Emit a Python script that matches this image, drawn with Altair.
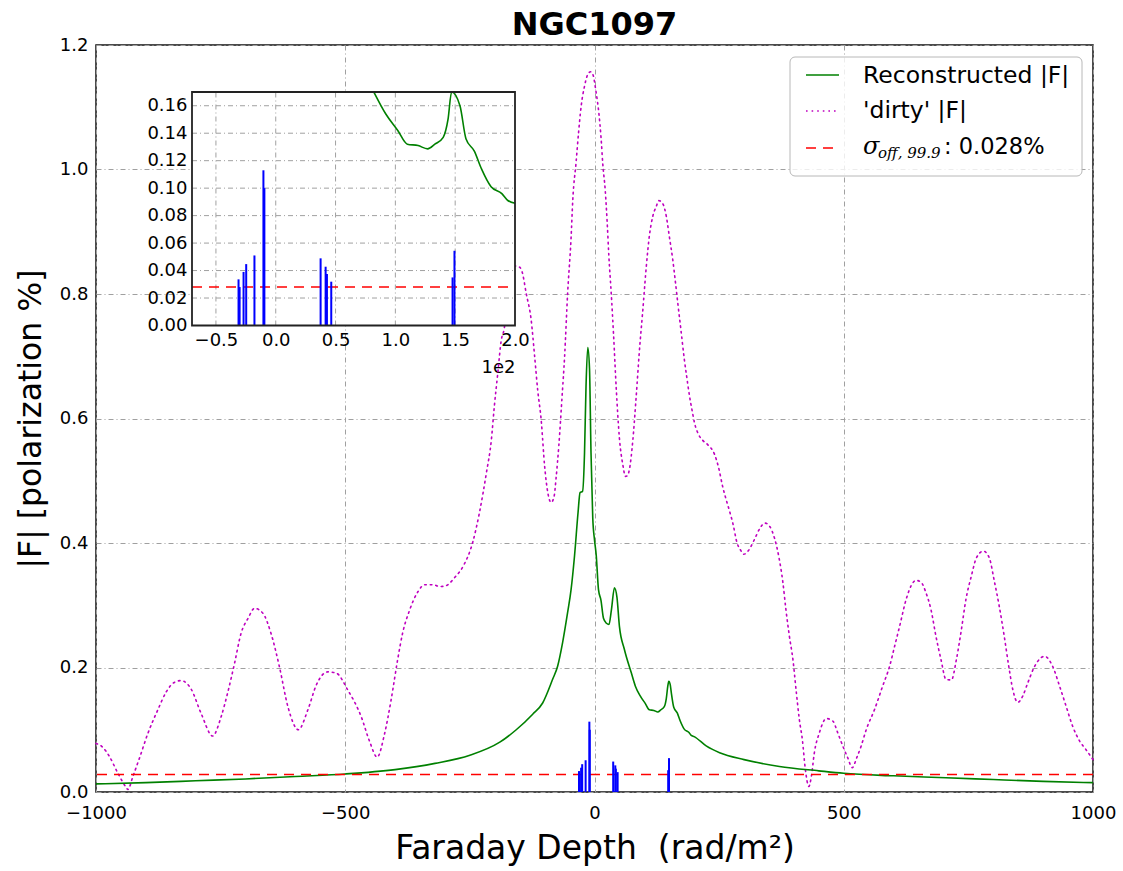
import altair as alt
import pandas as pd

# ---------------- data ----------------
title_text = "NGC1097"

dirty_x = [-1000, -988, -973, -956, -940, -936, -926, -913, -896, -876, -859, -843, -829, -809, -789,
           -766, -749, -736, -722, -709, -695, -682, -665, -649, -632, -615, -594, -575, -558, -535,
           -518, -495, -468, -451, -436, -421, -408, -395, -385, -371, -354, -341, -324, -310, -299,
           -280, -264, -244, -231, -217, -207, -201, -194, -187, -181, -175, -167, -158, -150, -145,
           -137, -127, -120, -114, -107, -100, -93, -87, -81, -77, -71.6, -65, -60, -54, -47, -43.5,
           -37, -32, -26.7, -20, -13.4, -8, -3.4, 3.4, 8.7, 13.4, 16.7, 21.4, 25.5, 28.8, 33.5, 38,
           43.5, 50, 57, 62, 66, 70, 77, 83.6, 90, 97, 104, 110, 117, 124, 129, 137, 144, 150, 157,
           162.5, 167, 174, 180.5, 185, 190.6, 196, 200.6, 209, 217, 227, 241, 249, 257, 264, 271,
           278, 286, 292, 299.5, 309, 321, 332, 342, 352, 361, 370, 378, 384, 391, 398, 405, 411,
           417, 423, 430, 435, 441, 451, 465, 478, 488, 498, 508, 517, 526, 535, 545, 562, 578, 592,
           602, 612, 625, 635, 645, 655, 665, 675, 685, 695, 705, 716, 726, 736, 745, 756, 766, 780,
           792, 802, 812, 822, 831, 839, 849, 859, 869, 883, 903, 919, 933, 946, 959, 973, 986, 1000]
dirty_y = [0.078, 0.073, 0.057, 0.030, 0.008, 0.004, 0.025, 0.054, 0.094, 0.132, 0.161, 0.176, 0.179, 0.165, 0.126,
           0.090, 0.121, 0.159, 0.207, 0.255, 0.279, 0.295, 0.287, 0.255, 0.201, 0.137, 0.100, 0.132, 0.172, 0.193,
           0.191, 0.164, 0.121, 0.081, 0.056, 0.094, 0.148, 0.212, 0.255, 0.292, 0.322, 0.333, 0.333, 0.330, 0.331,
           0.345, 0.362, 0.402, 0.448, 0.512, 0.565, 0.619, 0.673, 0.726, 0.745, 0.790, 0.830, 0.845, 0.843, 0.835,
           0.801, 0.758, 0.699, 0.646, 0.598, 0.523, 0.478, 0.465, 0.475, 0.505, 0.556, 0.636, 0.699, 0.800, 0.890, 0.952,
           1.011, 1.059, 1.102, 1.134, 1.153, 1.157, 1.153, 1.123, 1.091, 1.048, 1.008, 0.968, 0.914, 0.861, 0.802, 0.738,
           0.650, 0.568, 0.525, 0.507, 0.508, 0.518, 0.566, 0.635, 0.708, 0.775, 0.845, 0.893, 0.925, 0.941, 0.950, 0.945, 0.925, 0.893, 0.855,
           0.818, 0.786, 0.738, 0.693, 0.667, 0.636, 0.612, 0.593, 0.574, 0.565, 0.558, 0.542, 0.521, 0.491, 0.470, 0.451,
           0.430, 0.400, 0.390, 0.382, 0.388, 0.406, 0.424, 0.432, 0.426, 0.408, 0.377, 0.336, 0.293, 0.250, 0.213, 0.159, 0.116,
           0.084, 0.036, 0.009, 0.025, 0.063, 0.095, 0.118, 0.114, 0.095, 0.074, 0.055, 0.039, 0.055, 0.074, 0.100, 0.133, 0.170, 0.202,
           0.234, 0.266, 0.309, 0.331, 0.340, 0.337, 0.320, 0.293, 0.250, 0.213, 0.181, 0.180, 0.213, 0.261, 0.309, 0.347, 0.376, 0.387,
           0.376, 0.339, 0.298, 0.250, 0.202, 0.165, 0.144, 0.154, 0.175, 0.202, 0.218, 0.202, 0.170, 0.138, 0.106, 0.082, 0.068, 0.052]

rec_x = [-1000, -900, -800, -700, -600, -500, -400, -320, -250, -190, -157, -124, -104, -84, -74, -64, -54,
         -47, -40, -33, -29, -24, -20, -17, -13.5, -10, -7, -3.5, 0, 3.5, 8, 13, 18, 24, 29, 34, 40, 45,
         50, 60, 74, 82, 92, 102, 110, 119, 127, 133, 140, 144, 147, 149, 152, 154, 159, 166, 172, 180,
         189, 194, 200, 224, 251, 300, 371, 450, 500, 600, 705, 800, 900, 1000]
rec_y = [0.013, 0.015, 0.018, 0.021, 0.025, 0.029, 0.036, 0.046, 0.059, 0.080, 0.100, 0.125, 0.143, 0.181, 0.202, 0.240, 0.288,
         0.325, 0.380, 0.449, 0.481, 0.483, 0.545, 0.652, 0.714, 0.680, 0.545, 0.440, 0.405, 0.380, 0.325, 0.308, 0.279, 0.271, 0.269, 0.293, 0.328, 0.313,
         0.266, 0.229, 0.191, 0.170, 0.154, 0.142, 0.132, 0.131, 0.1286, 0.132, 0.137, 0.150, 0.170, 0.178, 0.172, 0.160, 0.136, 0.127, 0.114, 0.101,
         0.096, 0.091, 0.089, 0.074, 0.063, 0.052, 0.041, 0.034, 0.030, 0.026, 0.023, 0.020, 0.017, 0.015]

comp_x = [-31.1, -30.2, -26.9, -24.7, -17.8, -10.3, -9.5, 37.5, 41.7, 42.8, 46.4, 147.8, 149.4]
comp_h = [0.0336, 0.028, 0.039, 0.0447, 0.051, 0.113, 0.100, 0.0489, 0.0428, 0.0375, 0.0319, 0.035, 0.0544]

sigma = [0.028]

main_xticks = [-1000, -500, 0, 500, 1000]
main_yticks = [0.0, 0.2, 0.4, 0.6, 0.8, 1.0, 1.2]
inset_xticks = [-50, 0, 50, 100, 150, 200]
inset_yticks = [0.0, 0.02, 0.04, 0.06, 0.08, 0.10, 0.12, 0.14, 0.16]
inset_xgrid = [-50, 0, 50, 100, 150]
inset_ygrid = [0.02, 0.04, 0.06, 0.08, 0.10, 0.12, 0.14, 0.16]
inset_xdomain = [-70, 200]
inset_ydomain = [0, 0.17]

legend_labels = ["Reconstructed |F|", "'dirty' |F|"]
sigma_symbol = "σ"
sigma_sub = "off, 99.9"
sigma_rest = ": 0.028%"
x_title = "Faraday Depth \u00a0(rad/m²)"
y_title = "|F| [polarization %]"

# ---------------- styling ----------------
W, H = 997, 747
FONT = "DejaVu Sans"
GRID_DASH = [5, 3, 1, 3]
GRID_COLOR = "#a0a0a0"
GREEN = "#008000"
MAGENTA = "#bf00bf"
RED = "#ff0000"
BLUE = "#0000ff"

dirty_df = pd.DataFrame({"x": dirty_x, "y": dirty_y})
rec_df = pd.DataFrame({"x": rec_x, "y": rec_y})
comp_df = pd.DataFrame({"x": comp_x, "h": comp_h})
sig_df = pd.DataFrame({"s": sigma})
one = pd.DataFrame({"a": [0]})

# main scales / axes
mxs = alt.Scale(domain=[-1000, 1000], nice=False, zero=False)
mys = alt.Scale(domain=[0, 1.2], nice=False)
mxa = alt.Axis(values=main_xticks, format="d", grid=True, gridColor=GRID_COLOR, gridDash=GRID_DASH,
               gridWidth=1, domain=False, ticks=False, labelFontSize=18, labelPadding=12,
               labelFlush=False, labelOverlap=False, title=x_title,
               titleFontSize=33, titleFontWeight="normal", titlePadding=10)
mya = alt.Axis(values=main_yticks, format=".1f", grid=True, gridColor=GRID_COLOR, gridDash=GRID_DASH,
               gridWidth=1, domain=False, ticks=False, labelFontSize=18, labelPadding=8,
               labelFlush=False, labelOverlap=False, title=y_title,
               titleFontSize=31.5, titleFontWeight="normal", titlePadding=12)


def MX(f):
    return alt.X(f, type="quantitative", scale=mxs, axis=mxa)


def MY(f):
    return alt.Y(f, type="quantitative", scale=mys, axis=mya)


dirty = alt.Chart(dirty_df).mark_line(color=MAGENTA, strokeWidth=1.6, strokeDash=[1.6, 4],
                                      strokeCap="round", interpolate="monotone").encode(x=MX("x"), y=MY("y"))
green = alt.Chart(rec_df).mark_line(color=GREEN, strokeWidth=1.6, interpolate="monotone").encode(
    x=MX("x"), y=MY("y"))
redl = alt.Chart(sig_df).mark_rule(color=RED, strokeWidth=1.6, strokeDash=[10, 7]).encode(y=MY("s"))
blue = alt.Chart(comp_df).mark_rule(color=BLUE, strokeWidth=2).encode(
    x=MX("x"), y=MY("h"), y2=alt.datum(0))

# legend (drawn as a box with samples and text)
leg_box = alt.Chart(one).mark_rect(fill="white", fillOpacity=0.8, stroke="#b8b8b8", strokeWidth=1,
                                   cornerRadius=5).encode(
    x=alt.value(694), x2=alt.value(986), y=alt.value(12), y2=alt.value(131))
leg_l1 = alt.Chart(one).mark_rule(color=GREEN, strokeWidth=1.6).encode(
    x=alt.value(710), x2=alt.value(743), y=alt.value(30))
leg_l2 = alt.Chart(one).mark_rule(color=MAGENTA, strokeWidth=1.6, strokeDash=[1.6, 4]).encode(
    x=alt.value(710), x2=alt.value(743), y=alt.value(66))
leg_l3 = alt.Chart(one).mark_rule(color=RED, strokeWidth=1.6, strokeDash=[10, 7]).encode(
    x=alt.value(710), x2=alt.value(743), y=alt.value(103))
leg_t1 = alt.Chart(one).mark_text(text=legend_labels[0], align="left", baseline="middle", fontSize=23.5,
                                  font=FONT, color="black").encode(x=alt.value(767), y=alt.value(31))
leg_t2 = alt.Chart(one).mark_text(text=legend_labels[1], align="left", baseline="middle", fontSize=23.5,
                                  font=FONT, color="black").encode(x=alt.value(767), y=alt.value(66))
leg_t3a = alt.Chart(one).mark_text(text=sigma_symbol, align="left", baseline="alphabetic", fontSize=24,
                                   font="DejaVu Serif", fontStyle="italic", color="black").encode(
    x=alt.value(767), y=alt.value(109))
leg_t3b = alt.Chart(one).mark_text(text=sigma_sub, align="left", baseline="alphabetic", fontSize=15,
                                   font="DejaVu Serif", fontStyle="italic", color="black").encode(
    x=alt.value(782), y=alt.value(113))
leg_t3c = alt.Chart(one).mark_text(text=sigma_rest, align="left", baseline="alphabetic", fontSize=22.5,
                                   font=FONT, color="black").encode(x=alt.value(848), y=alt.value(109))

main = alt.layer(dirty, green, redl, blue, leg_box, leg_l1, leg_l2, leg_l3,
                 leg_t1, leg_t2, leg_t3a, leg_t3b, leg_t3c)

# inset scales / axes
ixs = alt.Scale(domain=inset_xdomain, range=[96, 419], nice=False, zero=False, clamp=True)
iys = alt.Scale(domain=inset_ydomain, range=[280.5, 47], nice=False, clamp=True)
ixa = alt.Axis(orient="bottom", offset=-466.5, values=inset_xticks,
               labelExpr="format(datum.value / 100, '.1f')", grid=False, domain=False, ticks=False,
               labelFontSize=18, labelPadding=6, labelFlush=False, labelOverlap=False,
               title="1e2", titleFontSize=18, titleFontWeight="normal", titleX=419, titleY=42,
               titleAlign="right", titleBaseline="middle")
iya = alt.Axis(orient="left", offset=-96, values=inset_yticks, format=".2f", grid=False, domain=False,
               ticks=False, labelFontSize=18, labelPadding=5, labelFlush=False, labelOverlap=False,
               title="")


def IX(f):
    return alt.X(f, type="quantitative", scale=ixs, axis=ixa)


def IY(f):
    return alt.Y(f, type="quantitative", scale=iys, axis=iya)


ixg_df = pd.DataFrame({"gx": inset_xgrid})
iyg_df = pd.DataFrame({"gy": inset_ygrid})

ibg = alt.Chart(one).mark_rect(fill="white").encode(
    x=alt.X(datum=inset_xdomain[0], scale=ixs, axis=ixa), x2=alt.datum(inset_xdomain[1]),
    y=alt.Y(datum=inset_ydomain[0], scale=iys, axis=iya), y2=alt.datum(inset_ydomain[1]))
igx = alt.Chart(ixg_df).mark_rule(color=GRID_COLOR, strokeWidth=1, strokeDash=GRID_DASH).encode(
    x=IX("gx"), y=alt.datum(inset_ydomain[0]), y2=alt.datum(inset_ydomain[1]))
igy = alt.Chart(iyg_df).mark_rule(color=GRID_COLOR, strokeWidth=1, strokeDash=GRID_DASH).encode(
    y=IY("gy"), x=alt.datum(inset_xdomain[0]), x2=alt.datum(inset_xdomain[1]))
ired = alt.Chart(sig_df).mark_rule(color=RED, strokeWidth=1.6, strokeDash=[10, 7]).encode(
    y=IY("s"), x=alt.datum(inset_xdomain[0]), x2=alt.datum(inset_xdomain[1]))
igreen = alt.Chart(rec_df).transform_filter(
    (alt.datum.x >= inset_xdomain[0]) & (alt.datum.x <= inset_xdomain[1]) & (alt.datum.y <= 0.1705)
).mark_line(color=GREEN, strokeWidth=1.6, interpolate="monotone").encode(x=IX("x"), y=IY("y"))
iblue = alt.Chart(comp_df).mark_rule(color=BLUE, strokeWidth=2).encode(
    x=IX("x"), y=IY("h"), y2=alt.datum(0))
iborder = alt.Chart(one).mark_rect(filled=False, stroke="#222222", strokeWidth=1.8).encode(
    x=alt.X(datum=inset_xdomain[0], scale=ixs, axis=ixa), x2=alt.datum(inset_xdomain[1]),
    y=alt.Y(datum=inset_ydomain[0], scale=iys, axis=iya), y2=alt.datum(inset_ydomain[1]))

inset = alt.layer(ibg, igx, igy, ired, igreen, iblue, iborder)

chart = alt.layer(main, inset).resolve_scale(x="independent", y="independent").properties(
    width=W, height=H,
    title=alt.TitleParams(title_text, fontSize=32, fontWeight="bold", offset=6, dy=12, color="black", font=FONT),
    autosize=alt.AutoSizeParams(type="none"),
    padding={"left": 96, "top": 45, "right": 30, "bottom": 79},
).configure(font=FONT).configure_view(stroke="#111111", strokeWidth=1.5).configure_axis(
    labelColor="black", titleColor="black", labelFont=FONT, titleFont=FONT)

chart.save("out.html", embed_options={"renderer": "svg", "actions": False})
